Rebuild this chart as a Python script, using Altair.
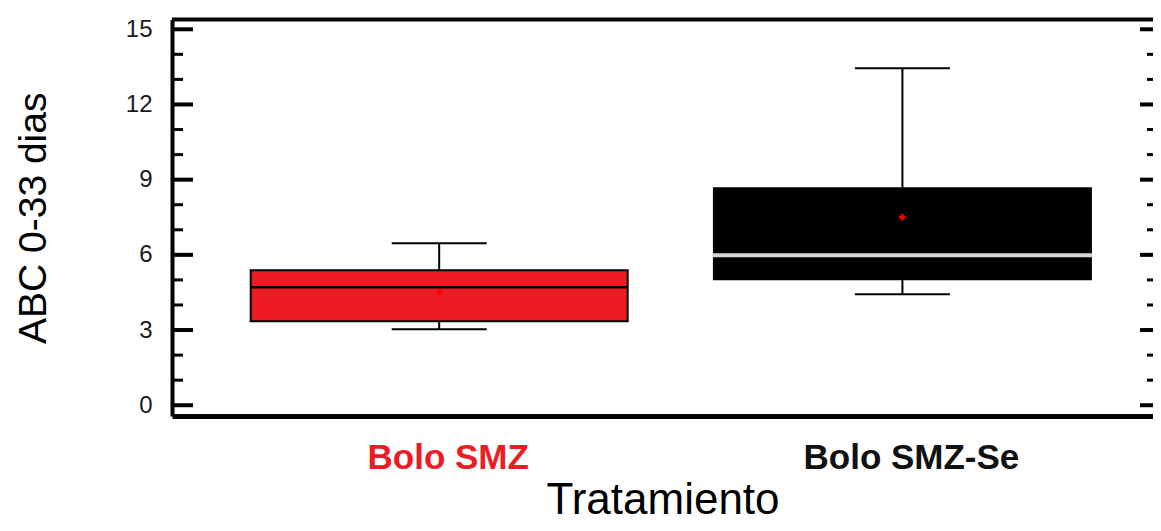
import altair as alt
import pandas as pd

# ---- data ----
treatments = ["Bolo SMZ", "Bolo SMZ-Se"]
group_index = [1, 2]
whisker_low = [3.03, 4.43]
q1 = [3.35, 5.03]
median = [4.71, 5.98]
q3 = [5.39, 8.66]
whisker_high = [6.46, 13.44]
means = [4.51, 7.50]

y_major_ticks = [0, 3, 6, 9, 12, 15]
y_minor_ticks = [1, 2, 4, 5, 7, 8, 10, 11, 13, 14]

df = pd.DataFrame({
    "treatment": treatments,
    "g": group_index,
    "lo": whisker_low,
    "q1": q1,
    "med": median,
    "q3": q3,
    "hi": whisker_high,
    "mean": means,
})
major_df = pd.DataFrame({"v": y_major_ticks})
minor_df = pd.DataFrame({"v": y_minor_ticks})
one_df = pd.DataFrame({"k": [0]})

FONT = "Liberation Sans"
RED = "#ed1c24"
W, H = 981, 396.5

yscale = alt.Scale(domain=[-0.43, 15.39], nice=False, zero=False)
xscale = alt.Scale(domain=[0.434, 0.434 + W / 468.0], nice=False, zero=False)

xaxis = alt.Axis(
    values=group_index,
    labels=False,
    ticks=False,
    tickSize=0,
    grid=False,
    domain=True,
    domainWidth=5,
    domainColor="black",
    title="Tratamiento",
    titleFont=FONT,
    titleFontSize=44,
    titleFontWeight="normal",
    titleColor="black",
    titleY=97,
    titleBaseline="alphabetic",
)
yaxis = alt.Axis(
    values=y_major_ticks,
    ticks=False,
    tickSize=0,
    grid=False,
    domain=True,
    domainWidth=4,
    domainColor="black",
    labelFont=FONT,
    labelFontSize=24,
    labelColor="#1a1a1a",
    labelPadding=20,
    title="ABC 0-33 dias",
    titleFont=FONT,
    titleFontSize=39,
    titleFontWeight="normal",
    titleColor="black",
    titleX=-127,
    titleBaseline="alphabetic",
)

def X():
    return alt.X("g:Q", scale=xscale, axis=xaxis)

def Y(field):
    return alt.Y(field, type="quantitative", scale=yscale, axis=yaxis)

base = alt.Chart(df)

whisker = base.mark_rule(color="black", strokeWidth=2).encode(
    x=X(), y=Y("lo"), y2="hi:Q",
)

caps_lo = base.mark_tick(color="black", thickness=2, size=95, orient="horizontal", opacity=1).encode(
    x=X(), y=Y("lo"),
)
caps_hi = base.mark_tick(color="black", thickness=2, size=95, orient="horizontal", opacity=1).encode(
    x=X(), y=Y("hi"),
)

box = base.mark_bar(size=377, stroke="black", strokeWidth=2, opacity=1).encode(
    x=X(), y=Y("q1"), y2="q3:Q",
    fill=alt.Fill("treatment:N", scale=alt.Scale(domain=treatments, range=[RED, "#000000"]), legend=None),
)

med_first = base.transform_filter(
    f"datum.treatment == '{treatments[0]}'"
).mark_tick(size=377, thickness=2.5, orient="horizontal", color="black", opacity=1).encode(
    x=X(), y=Y("med"),
)
med_second = base.transform_filter(
    f"datum.treatment == '{treatments[1]}'"
).mark_tick(size=379, thickness=4, orient="horizontal", color="#d6d6d6", opacity=1).encode(
    x=X(), y=Y("med"),
)

mean_pt = base.mark_point(shape="cross", filled=True, color="#ff0000", size=45, strokeWidth=0, opacity=1).encode(
    x=X(), y=Y("mean"),
)

labels = base.mark_text(
    font=FONT, fontSize=35, fontWeight="bold", baseline="alphabetic", align="center", dx=9
).encode(
    x=X(),
    y=alt.value(449.5),
    text="treatment:N",
    color=alt.Color("treatment:N", scale=alt.Scale(domain=treatments, range=[RED, "#111111"]), legend=None),
)

def tick_rules(data, x0, x1, width):
    return alt.Chart(data).mark_rule(color="black", strokeWidth=width).encode(
        y=Y("v"),
        x=alt.value(x0),
        x2=alt.value(x1),
    )

left_major = tick_rules(major_df, 0, 21, 4)
left_minor = tick_rules(minor_df, 0, 11, 3)
right_major = tick_rules(major_df, W - 13, W, 4)
right_minor = tick_rules(minor_df, W - 6, W, 3)

top_border = alt.Chart(one_df).mark_rule(color="black", strokeWidth=4).encode(
    x=alt.value(0), x2=alt.value(W), y=alt.value(0)
)

chart = alt.layer(
    whisker, caps_lo, caps_hi, box, med_first, med_second, mean_pt, labels,
    left_major, left_minor, right_major, right_minor, top_border,
).properties(
    width=W,
    height=H,
    padding={"left": 164, "top": 11.5, "right": 0, "bottom": 107},
    autosize="none",
    background="white",
).resolve_scale(color="independent").configure_view(stroke=None)

chart.save("out.html", embed_options={"renderer": "svg", "actions": False})
